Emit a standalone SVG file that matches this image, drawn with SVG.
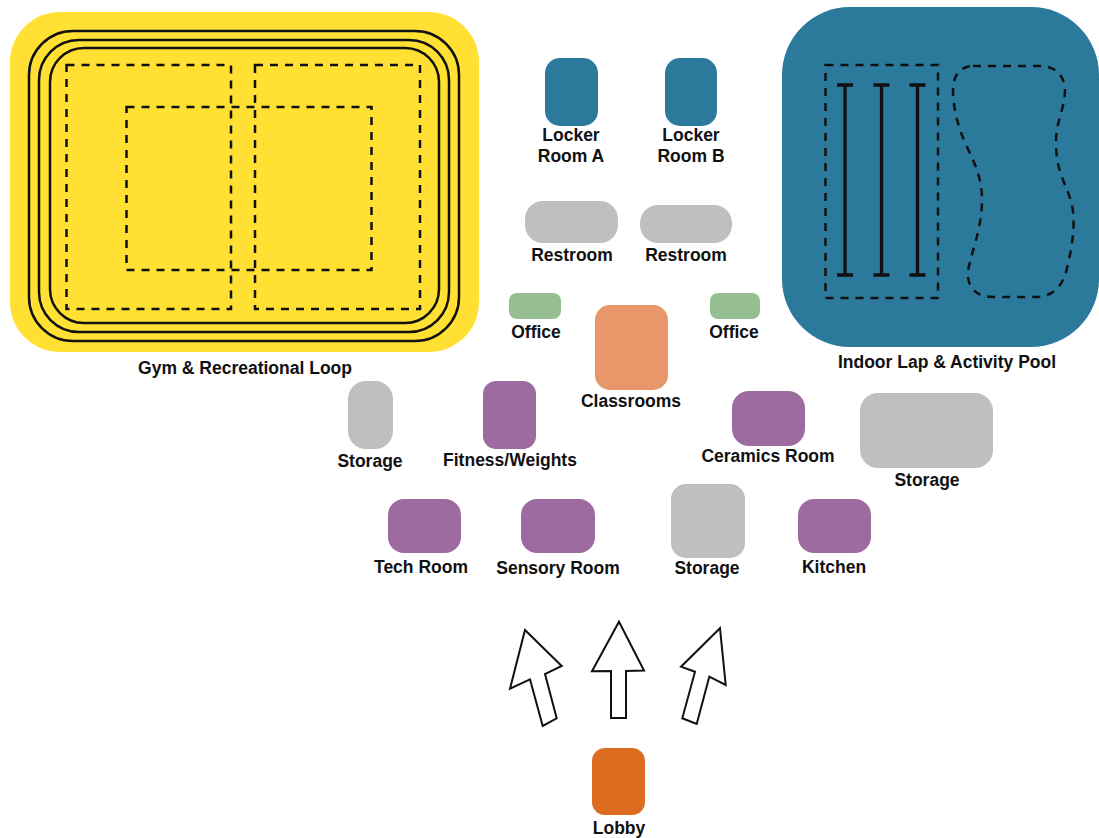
<svg xmlns="http://www.w3.org/2000/svg" width="1099" height="838" viewBox="0 0 1099 838">
<style>
text{font-family:"Liberation Sans",Arial,sans-serif;font-weight:700;font-size:17.500px;fill:#111;text-anchor:middle}
.track{fill:none;stroke:#111;stroke-width:2.500}
.dash{fill:none;stroke:#111;stroke-width:2.500;stroke-dasharray:8 7}
.lane{fill:none;stroke:#111;stroke-width:3.300}
.arrow{fill:#fff;stroke:#111;stroke-width:2}
.purple{fill:#9E6BA0}.grey{fill:#BFBFBF}.green{fill:#95BF91}.teal{fill:#2C7A9B}
</style>
<rect width="1099" height="838" fill="#fff"/>
<g id="gym">
<rect x="10" y="12" width="469" height="340" rx="50" fill="#FFE033"/>
<rect class="track" x="29" y="31" width="430" height="310" rx="44"/>
<rect class="track" x="39" y="40" width="410" height="292" rx="40"/>
<rect class="track" x="50" y="48" width="389" height="275" rx="34"/>
<rect class="dash" x="66.500" y="65" width="164.500" height="244"/>
<rect class="dash" x="255" y="65" width="165" height="244"/>
<rect class="dash" x="126.500" y="107" width="245" height="163"/>
<text x="245" y="373.500">Gym &amp; Recreational Loop</text>
</g>
<g id="pool">
<rect class="teal" x="782" y="7" width="317" height="340" rx="68"/>
<rect class="dash" x="825.500" y="65" width="112.500" height="233"/>
<path class="lane" d="M845 85V275M837 85H853M837 275H853M881.500 85V275M873.500 85H889.500M873.500 275H889.500M917.500 85V275M909.500 85H925.500M909.500 275H925.500"/>
<path class="dash" d="M973 66H1040C1058 66 1065 78 1065 92C1064 110 1056 122 1056 142C1056 170 1064 180 1070 198C1076 215 1074 240 1067 268C1063 287 1052 297 1035 297H993C975 297 967 286 968 272C970 255 982 230 982 200C982 180 976 165 966 145C957 125 953 105 953 90C953 76 960 66 973 66Z"/>
<text x="947" y="367.500">Indoor Lap &amp; Activity Pool</text>
</g>
<g id="locker-a"><rect class="teal" x="545" y="58" width="53" height="68" rx="15"/><text x="571" y="140.500">Locker</text><text x="571" y="161.500">Room A</text></g>
<g id="locker-b"><rect class="teal" x="665" y="58" width="52" height="68" rx="15"/><text x="691" y="140.500">Locker</text><text x="691" y="161.500">Room B</text></g>
<g id="restroom-a"><rect class="grey" x="525" y="201" width="93" height="42" rx="18"/><text x="572" y="260.500">Restroom</text></g>
<g id="restroom-b"><rect class="grey" x="640" y="205" width="92" height="38" rx="18"/><text x="686" y="260.500">Restroom</text></g>
<g id="office-a"><rect class="green" x="509" y="293" width="52" height="26" rx="8"/><text x="536" y="337.500">Office</text></g>
<g id="office-b"><rect class="green" x="710" y="293" width="50" height="26" rx="8"/><text x="734" y="337.500">Office</text></g>
<g id="classrooms"><rect x="595" y="305" width="73" height="85" rx="15" fill="#E8976A"/><text x="631" y="406.500">Classrooms</text></g>
<g id="storage-a"><rect class="grey" x="348" y="381" width="45" height="68" rx="18"/><text x="370" y="466.500">Storage</text></g>
<g id="fitness"><rect class="purple" x="483" y="381" width="53" height="68" rx="13"/><text x="510" y="465.500">Fitness/Weights</text></g>
<g id="ceramics"><rect class="purple" x="732" y="391" width="73" height="55" rx="17"/><text x="768" y="461.500">Ceramics Room</text></g>
<g id="storage-b"><rect class="grey" x="860" y="393" width="133" height="75" rx="18"/><text x="927" y="485.500">Storage</text></g>
<g id="tech"><rect class="purple" x="388" y="499" width="73" height="54" rx="16"/><text x="421" y="572.500">Tech Room</text></g>
<g id="sensory"><rect class="purple" x="521" y="499" width="74" height="54" rx="16"/><text x="558" y="573.500">Sensory Room</text></g>
<g id="storage-c"><rect class="grey" x="671" y="484" width="74" height="74" rx="15"/><text x="707" y="573.500">Storage</text></g>
<g id="kitchen"><rect class="purple" x="798" y="499" width="73" height="54" rx="16"/><text x="834" y="572.500">Kitchen</text></g>
<g id="lobby"><rect x="592" y="748" width="53" height="67" rx="13" fill="#DD6B20"/><text x="619" y="834">Lobby</text></g>
<g id="connectors">
<polygon class="arrow" points="525,630 561.700,666 545,674 556.700,718.300 542.700,726 530,679.300 510,688.700"/>
<polygon class="arrow" points="619,621.700 644,670.500 626,671 626,718 611,718 611,671 592,671.300"/>
<polygon class="arrow" points="720,628.300 725.700,685 709.300,676.700 696.700,724 682.300,718.300 695,671.700 681,666.700"/>
</g>
</svg>
